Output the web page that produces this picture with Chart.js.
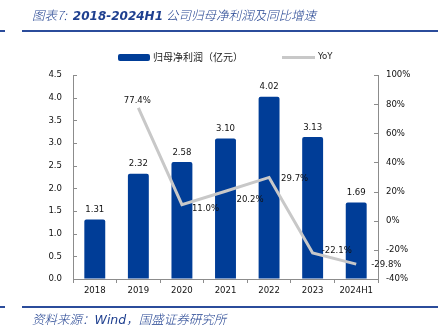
<!DOCTYPE html>
<html>
<head>
<meta charset="utf-8">
<script src="https://cdn.jsdelivr.net/npm/chart.js@4/dist/chart.umd.min.js"></script>
<style>
  html,body{margin:0;padding:0;background:#fff;}
  #wrap{position:relative;width:444px;height:326px;overflow:hidden;}
  #c{position:absolute;left:0;top:0;}
  .title{position:absolute;left:32px;top:5px;font:italic 300 12.5px "Noto Sans CJK SC","DejaVu Sans",sans-serif;color:#1e3f8f;white-space:nowrap;}
  .title b{font-family:"DejaVu Sans",sans-serif;font-weight:bold;font-size:12px;margin-left:6px;margin-right:3px;}
  .rule{position:absolute;height:2px;background:#2b4c9b;}
  .foot{position:absolute;left:32px;top:309px;font:italic 300 12.5px "Noto Sans CJK SC","DejaVu Sans",sans-serif;color:#1e3f8f;white-space:nowrap;}
  .foot b{font-family:"DejaVu Sans",sans-serif;font-weight:normal;}
  .leg{position:absolute;font:10px "Noto Sans CJK SC","DejaVu Sans",sans-serif;color:#222;white-space:nowrap;}
</style>
</head>
<body>
<div id="wrap">
  <canvas id="c" width="444" height="326"></canvas>
  <div class="title">图表7:<b>2018-2024H1</b>公司归母净利润及同比增速</div>
  <div class="rule" style="left:0;top:30px;width:5px;"></div>
  <div class="rule" style="left:22px;top:30px;width:416px;"></div>
  <div class="rule" style="left:0;top:306px;width:5px;"></div>
  <div class="rule" style="left:22px;top:306px;width:416px;"></div>
  <div class="foot">资料来源：<b>Wind</b>，国盛证券研究所</div>
  <div style="position:absolute;left:118px;top:54px;width:32px;height:7px;background:#003d97;border-radius:2px;"></div>
  <div class="leg" style="left:153px;top:49px;">归母净利润（亿元）</div>
  <div style="position:absolute;left:282px;top:56px;width:33px;height:3px;background:#c8c8c8;"></div>
  <div class="leg" style="left:318px;top:50px;font-family:'DejaVu Sans Condensed','DejaVu Sans',sans-serif;font-size:9.5px;">YoY</div>
</div>
<script>
const categories = ['2018','2019','2020','2021','2022','2023','2024H1'];
const netProfit = [1.31, 2.32, 2.58, 3.10, 4.02, 3.13, 1.69];
const yoy = [null, 77.4, 11.0, 20.2, 29.7, -22.1, -29.8];
const leftTicks = [0, 0.5, 1, 1.5, 2, 2.5, 3, 3.5, 4, 4.5];
const rightTicks = [-40, -20, 0, 20, 40, 60, 80, 100];

const FONT = "'DejaVu Sans Condensed','DejaVu Sans',sans-serif";
const AXIS = '#8c8c8c';

const labelPlugin = {
  id: 'labels',
  afterDatasetsDraw(chart) {
    const ctx = chart.ctx;
    ctx.save();
    ctx.font = '9.5px ' + FONT;
    ctx.fillStyle = '#111';
    const bm = chart.getDatasetMeta(1);
    bm.data.forEach((el, i) => {
      ctx.textAlign = 'center';
      ctx.textBaseline = 'middle';
      ctx.fillText(netProfit[i].toFixed(2), el.x, el.y - 10);
    });
    const lm = chart.getDatasetMeta(0);
    lm.data.forEach((el, i) => {
      if (yoy[i] === null) return;
      const txt = yoy[i].toFixed(1) + '%';
      ctx.textBaseline = 'middle';
      if (i === 1) {
        ctx.textAlign = 'center';
        ctx.fillText(txt, el.x - 1, el.y - 7);
      } else {
        ctx.textAlign = 'left';
        const dy = [0, 0, 4, 8, 1, -2, 0][i];
        const dx = [0, 0, 10, 11, 12, 9, 15][i];
        ctx.fillText(txt, el.x + dx, el.y + dy);
      }
    });
    ctx.restore();
  },
  afterDraw(chart) {
    const ctx = chart.ctx;
    const yl = chart.scales.y, yr = chart.scales.y1;
    ctx.save();
    ctx.strokeStyle = AXIS;
    ctx.lineWidth = 1;
    ctx.beginPath();
    leftTicks.forEach(v => {
      const y = Math.round(yl.getPixelForValue(v)) + 0.5;
      ctx.moveTo(yl.right, y); ctx.lineTo(yl.right + 4, y);
    });
    rightTicks.forEach(v => {
      const y = Math.round(yr.getPixelForValue(v)) + 0.5;
      ctx.moveTo(yr.left - 4, y); ctx.lineTo(yr.left, y);
    });
    ctx.stroke();
    ctx.restore();
  }
};

new Chart(document.getElementById('c'), {
  data: {
    labels: categories,
    datasets: [
      {
        type: 'line', label: 'YoY', data: yoy, yAxisID: 'y1',
        borderColor: '#c8c8c8', borderWidth: 3, pointRadius: 0, tension: 0,
        order: 0, spanGaps: false
      },
      {
        type: 'bar', label: '归母净利润（亿元）', data: netProfit, yAxisID: 'y',
        backgroundColor: '#003d97', borderRadius: 2, borderSkipped: 'bottom',
        barPercentage: 0.48, categoryPercentage: 1, order: 1
      }
    ]
  },
  options: {
    responsive: false,
    animation: false,
    events: [],
    layout: { padding: { top: 75, left: 0, right: 0, bottom: 0 } },
    plugins: { legend: { display: false }, tooltip: { enabled: false } },
    scales: {
      x: {
        offset: true,
        grid: { offset: true, drawOnChartArea: false, drawTicks: true, tickLength: 4, color: AXIS },
        border: { color: AXIS, width: 1 },
        ticks: { color: '#111', font: { family: FONT, size: 9.5 }, padding: 2, maxRotation: 0, autoSkip: false },
        afterFit(s) { s.height = 47; }
      },
      y: {
        position: 'left', min: 0, max: 4.5,
        afterBuildTicks(s) { s.ticks = leftTicks.map(v => ({ value: v })); },
        grid: { drawOnChartArea: false, drawTicks: false },
        border: { color: AXIS, width: 1 },
        ticks: { color: '#111', font: { family: FONT, size: 9.5 }, padding: 11, callback: v => Number(v).toFixed(1) },
        afterFit(s) { s.width = 73; }
      },
      y1: {
        position: 'right', min: -40, max: 100,
        afterBuildTicks(s) { s.ticks = rightTicks.map(v => ({ value: v })); },
        grid: { drawOnChartArea: false, drawTicks: false },
        border: { color: AXIS, width: 1 },
        ticks: { color: '#111', font: { family: FONT, size: 9.5 }, padding: 8, callback: v => v + '%' },
        afterFit(s) { s.width = 66; }
      }
    }
  },
  plugins: [labelPlugin]
});
</script>
</body>
</html>
